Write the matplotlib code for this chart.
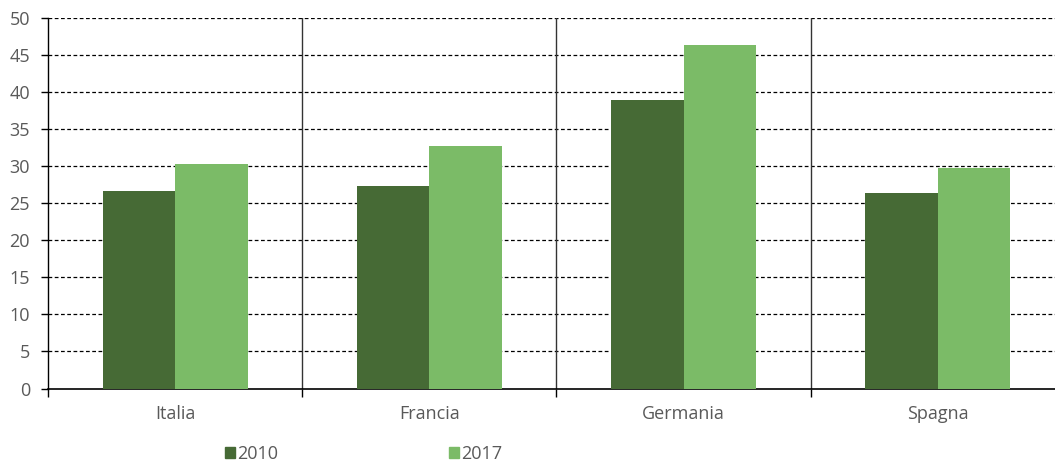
import matplotlib
matplotlib.use("Agg")
import matplotlib.pyplot as plt
from matplotlib.patches import Patch
import numpy as np

categories = ["Italia", "Francia", "Germania", "Spagna"]
series_names = ["2010", "2017"]
values_2010 = [26.6, 27.3, 39.0, 26.4]
values_2017 = [30.3, 32.7, 46.3, 29.8]
y_ticks = [0, 5, 10, 15, 20, 25, 30, 35, 40, 45, 50]

c2010 = "#466a35"
c2017 = "#7bbb67"
text_c = "#595959"

plt.rcParams["font.family"] = ["Open Sans", "DejaVu Sans"]
plt.rcParams["font.size"] = 13

fig = plt.figure(figsize=(10.55, 4.61), dpi=100)
W, H = 1055, 461
left, right = 48, 1065
top, bottom = 18, 388.5
ax = fig.add_axes([left / W, 1 - bottom / H, (right - left) / W, (bottom - top) / H])

x = np.arange(len(categories))
bw = 0.285
ax.bar(x - bw / 2, values_2010, bw, color=c2010, zorder=3)
ax.bar(x + bw / 2, values_2017, bw, color=c2017, zorder=3)

ax.set_xlim(-0.5, len(categories) - 0.5)
ax.set_ylim(0, 50)
ax.set_yticks(y_ticks)
ax.set_xticks(x)
ax.set_xticklabels(categories, color=text_c)
ax.tick_params(axis="x", length=0, pad=12)
ax.set_xticks(np.arange(len(categories) + 1) - 0.5, minor=True)
ax.tick_params(axis="x", which="minor", length=6, width=1, color="black", direction="out")
ax.tick_params(axis="y", length=5, width=1, color="black", labelcolor=text_c, pad=8)

for v in y_ticks[1:]:
    ax.axhline(v, color="black", lw=0.9, ls=(0, (3, 2)), zorder=1)
for b in np.arange(1, len(categories)) - 0.5:
    ax.axvline(b, color="#333333", lw=1, zorder=1)

for s in ["top", "right"]:
    ax.spines[s].set_visible(False)
ax.spines["left"].set_color("black")
ax.spines["bottom"].set_color("black")
ax.spines["left"].set_linewidth(1)
ax.spines["bottom"].set_linewidth(1.2)

handles = [Patch(color=c2010), Patch(color=c2017)]
leg = fig.legend(handles, series_names, loc="center left", bbox_to_anchor=(225 / W, 1 - 454 / H),
                 ncol=2, frameon=False, handlelength=0.55, handleheight=0.55, handletextpad=0.1,
                 columnspacing=9.5, labelcolor=text_c, borderaxespad=0, borderpad=0)

fig.savefig("out.png", dpi=100)
